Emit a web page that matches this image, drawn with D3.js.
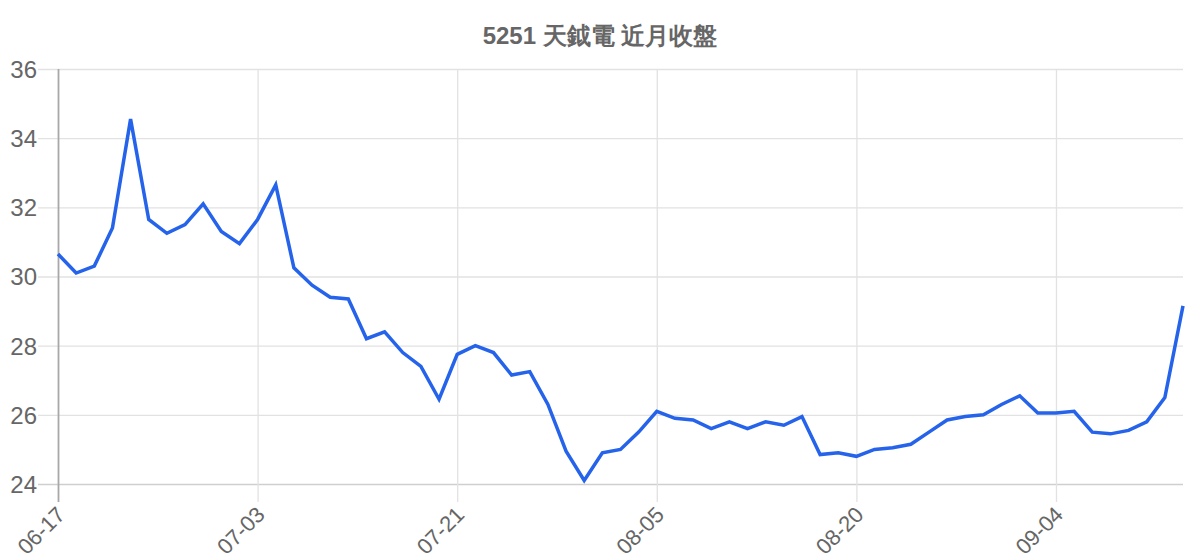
<!DOCTYPE html>
<html>
<head>
<meta charset="utf-8">
<script src="https://cdn.jsdelivr.net/npm/d3@7"></script>
<style>
  body { margin: 0; background: #fff; }
  text { font-family: "Liberation Sans", Arial, sans-serif; }
</style>
</head>
<body>
<svg id="chart"></svg>
<script>
// closing prices, last ~3 months
var dates = [
  "06-17","06-18","06-19","06-20","06-23","06-24","06-25","06-26","06-27","06-30","07-02",
  "07-03","07-04","07-07","07-08","07-09","07-10","07-11","07-14","07-15","07-16","07-18",
  "07-21","07-22","07-23","07-24","07-25","07-28","07-29","07-30","07-31","08-01","08-04",
  "08-05","08-06","08-07","08-08","08-11","08-12","08-13","08-14","08-15","08-18","08-19",
  "08-20","08-21","08-22","08-25","08-26","08-27","08-28","08-29","09-01","09-02","09-03",
  "09-04","09-05","09-08","09-09","09-10","09-11","09-12","09-15"
];
var closes = [
  30.65, 30.1, 30.3, 31.4, 34.55, 31.65, 31.25, 31.5, 32.1, 31.3, 30.95,
  31.65, 32.65, 30.25, 29.75, 29.4, 29.35, 28.2, 28.4, 27.8, 27.4, 26.45,
  27.75, 28.0, 27.8, 27.15, 27.25, 26.3, 24.95, 24.1, 24.9, 25.0, 25.5,
  26.1, 25.9, 25.85, 25.6, 25.8, 25.6, 25.8, 25.7, 25.95, 24.85, 24.9,
  24.8, 25.0, 25.05, 25.15, 25.5, 25.85, 25.95, 26.0, 26.3, 26.55, 26.05,
  26.05, 26.1, 25.5, 25.45, 25.55, 25.8, 26.5, 29.15
];
var xTickLabels = ["06-17","07-03","07-21","08-05","08-20","09-04"];
var yTicks = [24, 26, 28, 30, 32, 34, 36];
var title = "5251 天鉞電 近月收盤";

var width = 1200, height = 560;
var plotLeft = 58, plotRight = 1183, plotTop = 69, plotBottom = 484;

var svg = d3.select("#chart")
    .attr("width", width)
    .attr("height", height);

var xScale = d3.scalePoint()
    .domain(dates)
    .range([plotLeft, plotRight]);

var yScale = d3.scaleLinear()
    .domain([24, 36])
    .range([plotBottom, plotTop]);

// title
svg.append("text")
    .attr("x", 600)
    .attr("y", 44)
    .attr("text-anchor", "middle")
    .attr("fill", "#666")
    .style("font-size", "24px")
    .style("font-weight", "bold")
    .text(title);

// horizontal grid + y labels
var yAxis = svg.append("g")
    .attr("transform", "translate(" + plotLeft + ",0)")
    .call(d3.axisLeft(yScale)
        .tickValues(yTicks)
        .tickSize(-(plotRight - plotLeft))
        .tickFormat(d3.format("d")));
yAxis.select(".domain").remove();
yAxis.selectAll(".tick line")
    .attr("x1", -20)
    .attr("stroke", function(d) { return d === 24 ? "#cfcfcf" : "#e2e2e2"; })
    .attr("stroke-width", 1.3);
yAxis.selectAll(".tick text")
    .attr("fill", "#666")
    .attr("x", -21)
    .attr("dy", "0.35em")
    .style("font-size", "24px")
    .style("font-family", "'Liberation Sans', Arial, sans-serif");

// vertical grid + x labels
var xAxis = svg.append("g")
    .attr("transform", "translate(0," + plotBottom + ")")
    .call(d3.axisBottom(xScale)
        .tickValues(xTickLabels)
        .tickSizeOuter(0));
xAxis.select(".domain").remove();
xAxis.selectAll(".tick line")
    .attr("y1", -(plotBottom - plotTop))
    .attr("y2", 18)
    .attr("stroke", function(d) { return d === dates[0] ? "#a8a8a8" : "#e2e2e2"; })
    .attr("stroke-width", function(d) { return d === dates[0] ? 1.8 : 1.3; });
xAxis.selectAll(".tick text")
    .attr("y", 0)
    .attr("dy", 0)
    .attr("fill", "#666")
    .attr("text-anchor", "end")
    .attr("transform", "translate(8,32) rotate(-45)")
    .style("font-size", "22px")
    .style("font-family", "'Liberation Sans', Arial, sans-serif");

// price line
var line = d3.line()
    .x(function(d, i) { return xScale(dates[i]); })
    .y(function(d) { return yScale(d); });

svg.append("path")
    .datum(closes)
    .attr("d", line)
    .attr("fill", "none")
    .attr("stroke", "#2563eb")
    .attr("stroke-width", 3.5)
    .attr("stroke-linejoin", "miter");
</script>
</body>
</html>
